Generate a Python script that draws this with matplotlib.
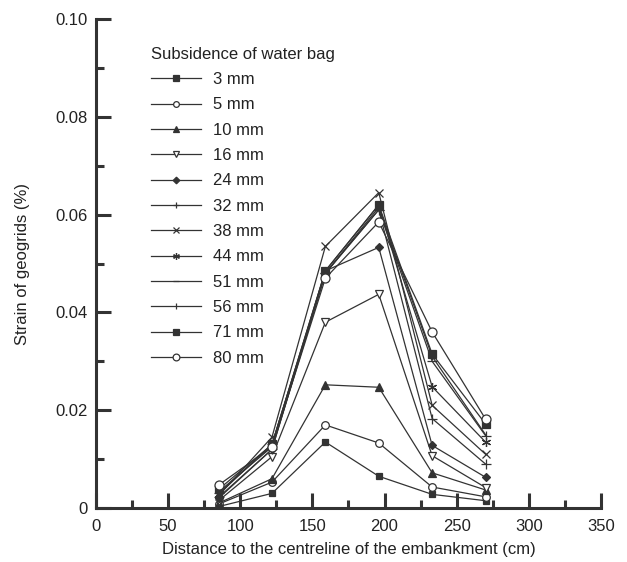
import matplotlib
matplotlib.use("Agg")
import matplotlib.pyplot as plt

plt.rcParams['font.family'] = ['Liberation Sans', 'DejaVu Sans']

distance = [85, 122, 159, 196, 233, 270]
labels = ["3 mm", "5 mm", "10 mm", "16 mm", "24 mm", "32 mm", "38 mm",
          "44 mm", "51 mm", "56 mm", "71 mm", "80 mm"]
s3 = [0.0003, 0.0030, 0.0135, 0.0065, 0.0028, 0.0015]
s5 = [0.0008, 0.0053, 0.0170, 0.0133, 0.0043, 0.0023]
s10 = [0.0010, 0.0060, 0.0252, 0.0247, 0.0072, 0.0037]
s16 = [0.0015, 0.0105, 0.0380, 0.0437, 0.0107, 0.0042]
s24 = [0.0020, 0.0120, 0.0485, 0.0533, 0.0128, 0.0063]
s32 = [0.0022, 0.0120, 0.0480, 0.0610, 0.0183, 0.0090]
s38 = [0.0025, 0.0145, 0.0535, 0.0645, 0.0210, 0.0110]
s44 = [0.0028, 0.0130, 0.0485, 0.0620, 0.0248, 0.0135]
s51 = [0.0030, 0.0130, 0.0480, 0.0610, 0.0300, 0.0148]
s56 = [0.0033, 0.0125, 0.0480, 0.0615, 0.0310, 0.0150]
s71 = [0.0038, 0.0130, 0.0485, 0.0620, 0.0315, 0.0172]
s80 = [0.0047, 0.0125, 0.0470, 0.0585, 0.0360, 0.0182]
series = [s3, s5, s10, s16, s24, s32, s38, s44, s51, s56, s71, s80]

styles = [
    dict(marker='s', mfc='#333333', ms=5),
    dict(marker='o', mfc='white', ms=5.5),
    dict(marker='^', mfc='#333333', ms=6),
    dict(marker='v', mfc='white', ms=6),
    dict(marker='D', mfc='#333333', ms=4.5),
    dict(marker='+', mfc='none', ms=6.5),
    dict(marker='x', mfc='none', ms=6),
    dict(marker=(6, 2, 0), mfc='none', ms=6.5),
    dict(marker='_', mfc='none', ms=6.5),
    dict(marker='|', mfc='none', ms=6),
    dict(marker='s', mfc='#333333', ms=6),
    dict(marker='o', mfc='white', ms=6.5),
]

fig = plt.figure(figsize=(6.27, 5.62), dpi=100)
ax = fig.add_axes([0.153, 0.096, 0.8055, 0.8702])
col = '#333333'
for y, lab, st in zip(series, labels, styles):
    ax.plot(distance, y, color=col, lw=0.9, mec=col, mew=0.9, label=lab, **st)

ax.set_xlim(0, 350)
ax.set_ylim(0, 0.10)
ax.set_xticks(range(0, 351, 50))
ax.set_xticks(range(25, 351, 50), minor=True)
ax.set_yticks([0, 0.02, 0.04, 0.06, 0.08, 0.10])
ax.set_yticklabels(["0", "0.02", "0.04", "0.06", "0.08", "0.10"])
ax.set_yticks([0.01, 0.03, 0.05, 0.07, 0.09], minor=True)
for s in ['top', 'right']:
    ax.spines[s].set_visible(False)
for s in ['left', 'bottom']:
    ax.spines[s].set_linewidth(2.2)
    ax.spines[s].set_color(col)
ax.tick_params(which='major', direction='in', length=11, width=2.2, color=col,
               labelsize=12, labelcolor='#222222', pad=6)
ax.tick_params(axis='x', which='major', pad=8)
ax.tick_params(which='minor', direction='in', length=6, width=2.2, color=col)
ax.set_xlabel("Distance to the centreline of the embankment (cm)", fontsize=12,
              color='#222222', labelpad=6)
ax.set_ylabel("Strain of geogrids (%)", fontsize=12, color='#222222', labelpad=18)

leg = ax.legend(loc='upper left', bbox_to_anchor=(0.095, 0.957), frameon=False,
                title="Subsidence of water bag", title_fontsize=12, fontsize=12,
                alignment='left', handlelength=3.0, labelspacing=0.62,
                markerscale=0.75, handletextpad=0.75, borderaxespad=0)
for t in leg.get_texts():
    t.set_color('#222222')
leg.get_title().set_color('#222222')

fig.savefig("out.png", dpi=100)
